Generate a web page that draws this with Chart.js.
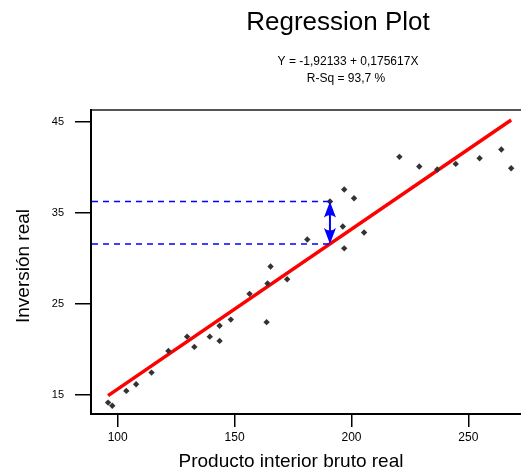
<!DOCTYPE html>
<html>
<head>
<meta charset="utf-8">
<script src="https://cdn.jsdelivr.net/npm/chart.js@4.4.1/dist/chart.umd.min.js"></script>
<style>
html,body{margin:0;padding:0;background:#fff;}
canvas{display:block;}
</style>
</head>
<body>
<canvas id="c" width="521" height="472"></canvas>
<script>
// ---- data ----
const xValues = [95.9, 97.7, 103.7, 107.9, 114.5, 121.7, 129.7, 132.8, 139.4, 143.6, 143.6, 148.4, 156.4, 163.7, 164.1, 165.4, 172.5, 181.1, 190.8, 196.3, 196.9, 196.9, 201.1, 205.4, 220.5, 229.0, 236.7, 244.6, 254.8, 264.1, 268.3];
const yValues = [14.15, 13.8, 15.44, 16.17, 17.45, 19.83, 21.4, 20.27, 21.4, 22.6, 20.93, 23.27, 26.1, 22.99, 27.23, 29.1, 27.7, 32.07, 36.25, 33.5, 37.56, 31.1, 36.6, 32.84, 41.15, 40.09, 39.76, 40.38, 41.0, 41.96, 39.9];
const intercept = -1.92133;
const slope = 0.175617;
const xTicks = [100, 150, 200, 250];
const yTicks = [15, 25, 35, 45];
const highlightIndex = 18;
const titleText = "Regression Plot";
const subtitleLines = ["Y = -1,92133 + 0,175617X", "R-Sq = 93,7 %"];
const xTitle = "Producto interior bruto real";
const yTitle = "Inversión real";

const FONT = "'Liberation Sans', Arial, sans-serif";
const fit = x => intercept + slope * x;
const points = xValues.map((x, i) => ({x, y: yValues[i]}));
const minX = Math.min(...xValues), maxX = Math.max(...xValues);
const linePts = [{x: minX, y: fit(minX)}, {x: maxX, y: fit(maxX)}];

const decor = {
  id: 'decor',
  beforeDatasetsDraw(chart) {
    const {ctx, chartArea: a} = chart;
    ctx.save();
    ctx.lineWidth = 2;
    ctx.strokeStyle = '#555';
    ctx.beginPath(); ctx.moveTo(a.left, a.top); ctx.lineTo(a.right + 5, a.top); ctx.stroke();
    ctx.strokeStyle = '#000';
    ctx.beginPath(); ctx.moveTo(a.left, a.top - 1); ctx.lineTo(a.left, a.bottom); ctx.lineTo(a.right + 5, a.bottom); ctx.stroke();
    ctx.restore();
  },
  afterDatasetsDraw(chart) {
    const {ctx, chartArea: a, scales: {x, y}} = chart;
    const hx = xValues[highlightIndex], hy = yValues[highlightIndex];
    const px = x.getPixelForValue(hx);
    const pObs = y.getPixelForValue(hy);
    const pFit = y.getPixelForValue(fit(hx));
    ctx.save();
    ctx.strokeStyle = 'rgb(0,0,255)';
    ctx.lineWidth = 1.5;
    ctx.setLineDash([6, 5]);
    for (const py of [pObs, pFit]) {
      ctx.beginPath(); ctx.moveTo(a.left + 1, py); ctx.lineTo(px, py); ctx.stroke();
    }
    ctx.setLineDash([]);
    ctx.strokeStyle = 'rgb(0,0,255)';
    ctx.lineWidth = 2;
    ctx.beginPath(); ctx.moveTo(px, pObs + 8); ctx.lineTo(px, pFit - 8); ctx.stroke();
    ctx.fillStyle = 'rgb(0,0,255)';
    const hw = 6, hl = 16;
    ctx.beginPath();
    ctx.moveTo(px, pObs); ctx.lineTo(px + hw, pObs + hl); ctx.quadraticCurveTo(px, pObs + hl - 5, px - hw, pObs + hl); ctx.closePath(); ctx.fill();
    ctx.beginPath();
    ctx.moveTo(px, pFit); ctx.lineTo(px + hw, pFit - hl); ctx.quadraticCurveTo(px, pFit - hl + 5, px - hw, pFit - hl); ctx.closePath(); ctx.fill();
    ctx.restore();
  },
  afterDraw(chart) {
    const {ctx} = chart;
    ctx.save();
    ctx.fillStyle = '#000';
    ctx.textAlign = 'center';
    ctx.textBaseline = 'middle';
    ctx.font = `26px ${FONT}`;
    ctx.fillText(titleText, 338, 23);
    ctx.font = `12px ${FONT}`;
    ctx.fillText(subtitleLines[0], 348, 62);
    ctx.fillText(subtitleLines[1], 346, 79);
    ctx.font = `19px ${FONT}`;
    ctx.fillText(xTitle, 291, 462);
    ctx.translate(24, 266);
    ctx.rotate(-Math.PI / 2);
    ctx.fillText(yTitle, 0, 0);
    ctx.restore();
  }
};

new Chart(document.getElementById('c'), {
  type: 'scatter',
  data: {
    datasets: [
      {
        type: 'line',
        data: linePts,
        borderColor: '#ff0000',
        borderWidth: 3.5,
        pointRadius: 0,
        fill: false,
        order: 2
      },
      {
        data: points,
        pointStyle: 'rectRot',
        pointRadius: 3.2,
        pointBackgroundColor: '#333',
        pointBorderColor: '#333',
        pointBorderWidth: 0,
        order: 1
      }
    ]
  },
  options: {
    responsive: false,
    animation: false,
    devicePixelRatio: 1,
    layout: {padding: {top: 110, left: 0, right: 0, bottom: 0}},
    plugins: {legend: {display: false}, tooltip: {enabled: false}, title: {display: false}},
    scales: {
      x: {
        type: 'linear',
        min: 88.6, max: 270.8,
        afterBuildTicks: s => { s.ticks = xTicks.map(v => ({value: v})); },
        afterFit: s => { s.height = 58; },
        border: {display: false},
        grid: {drawOnChartArea: false, drawTicks: true, tickLength: 13, color: '#000', lineWidth: 1.5},
        ticks: {color: '#000', font: {family: FONT, size: 12}, padding: 3, maxRotation: 0}
      },
      y: {
        type: 'linear',
        min: 12.9, max: 46.3,
        afterBuildTicks: s => { s.ticks = yTicks.map(v => ({value: v})); },
        afterFit: s => { s.width = 91; },
        border: {display: false},
        grid: {drawOnChartArea: false, drawTicks: true, tickLength: 16, color: '#000', lineWidth: 1.5},
        ticks: {color: '#000', font: {family: FONT, size: 11}, padding: 11}
      }
    }
  },
  plugins: [decor]
});
</script>
</body>
</html>
